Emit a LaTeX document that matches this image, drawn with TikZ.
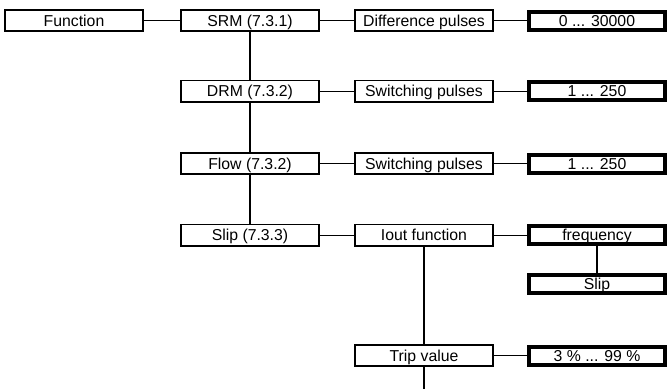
\documentclass[tikz,border=0pt]{standalone}
\usepackage{fontspec}
\setmainfont{Liberation Sans}
\usetikzlibrary{positioning}

\begin{document}
\begin{tikzpicture}[x = 1pt, y = -1pt,
  menu/.style = {draw, line width = 1.6pt, minimum width = 138.4pt, minimum height = 21.4pt, inner sep = 0pt, text height = 13pt, text depth = 1.6pt, font = \fontsize{15.8}{18}\selectfont},
  value/.style = {draw, line width = 4pt, minimum width = 136pt, minimum height = 18pt, inner sep = 0pt, text height = 13pt, text depth = 1.6pt, font = \fontsize{15.8}{18}\selectfont},
  hline/.style = {line width = 0.9pt},
  vline/.style = {line width = 1.8pt}]
\useasboundingbox (0, 0) rectangle (668, 389);
\node[menu] (fun) at (74.0, 20.5){Function};
\node[menu] (srm) at (250.0, 20.5){SRM (7.3.1)};
\node[menu] (drm) at (250.0, 91.0){DRM (7.3.2)};
\node[menu] (flow) at (250.0, 163.5){Flow (7.3.2)};
\node[menu] (slip) at (250.0, 235.0){Slip (7.3.3)};
\node[menu] (diff) at (424.0, 20.5){Difference pulses};
\node[menu] (swdrm) at (424.0, 91.0){Switching pulses};
\node[menu] (swflow) at (424.0, 163.5){Switching pulses};
\node[menu] (iout) at (424.0, 235.0){Iout function};
\node[menu] (trip) at (424.0, 355.5){Trip value};
\node[value] (diffval) at (597.0, 20.5){0 ... 30000};
\node[value] (drmval) at (597.0, 91.0){1 ... 250};
\node[value] (flowval) at (597.0, 163.5){1 ... 250};
\node[value] (freq) at (597.0, 235.0){frequency};
\node[value] (slipval) at (597.0, 283.5){Slip};
\node[value] (tripval) at (597.0, 355.5){3 \% ... 99 \%};
\coordinate (tripend) at (424.0, 389.0);
\draw[hline] (fun) -- (srm);
\draw[hline] (srm) -- (diff);
\draw[hline] (diff) -- (diffval);
\draw[hline] (drm) -- (swdrm);
\draw[hline] (swdrm) -- (drmval);
\draw[hline] (flow) -- (swflow);
\draw[hline] (swflow) -- (flowval);
\draw[hline] (slip) -- (iout);
\draw[hline] (iout) -- (freq);
\draw[hline] (trip) -- (tripval);
\draw[vline] (srm) -- (drm);
\draw[vline] (drm) -- (flow);
\draw[vline] (flow) -- (slip);
\draw[vline] (freq) -- (slipval);
\draw[vline] (iout) -- (trip);
\draw[vline] (trip) -- (tripend);
\end{tikzpicture}
\end{document}
